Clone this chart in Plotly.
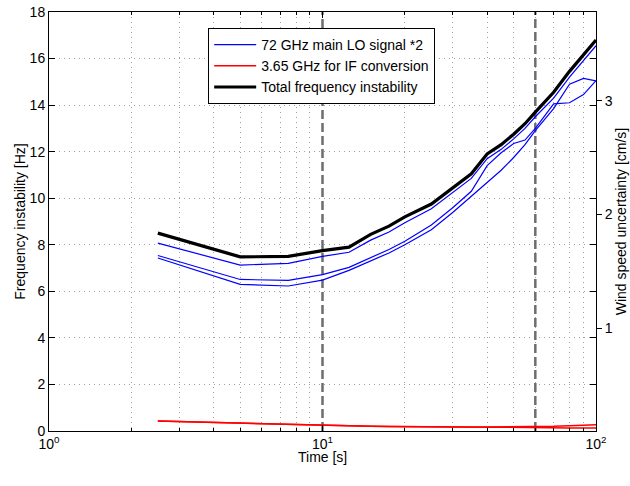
import plotly.graph_objects as go

# ---- data ----
t = [2.5, 5, 7.5, 10, 12.5, 15, 17.5, 20, 25, 30, 35, 40, 45, 50, 55, 60, 70, 80, 90, 100]
total = [8.5, 7.48, 7.5, 7.75, 7.9, 8.45, 8.8, 9.2, 9.75, 10.45, 11.05, 11.9, 12.3, 12.75, 13.2, 13.7, 14.55, 15.45, 16.15, 16.8]
lo_1 = [8.07, 7.13, 7.2, 7.5, 7.68, 8.2, 8.55, 8.95, 9.55, 10.25, 10.85, 11.7, 12.1, 12.55, 13.0, 13.5, 14.3, 15.2, 15.9, 16.55]
lo_2 = [7.54, 6.51, 6.47, 6.72, 7.03, 7.45, 7.8, 8.15, 8.85, 9.6, 10.3, 11.4, 11.95, 12.35, 12.5, 13.0, 14.05, 14.1, 14.45, 15.05]
lo_3 = [7.43, 6.3, 6.23, 6.48, 6.9, 7.3, 7.65, 8.0, 8.65, 9.4, 10.1, 10.7, 11.2, 11.75, 12.3, 12.9, 13.85, 14.9, 15.15, 15.04]
if_1 = [0.43, 0.33, 0.27, 0.24, 0.22, 0.2, 0.19, 0.18, 0.17, 0.17, 0.17, 0.17, 0.17, 0.17, 0.17, 0.18, 0.2, 0.23, 0.25, 0.27]
if_2 = [0.43, 0.33, 0.27, 0.24, 0.22, 0.2, 0.19, 0.18, 0.17, 0.17, 0.17, 0.16, 0.16, 0.15, 0.15, 0.14, 0.14, 0.13, 0.13, 0.13]
marker_times = [10, 60]
y_ticks = [0, 2, 4, 6, 8, 10, 12, 14, 16, 18]
x_ticks = [1, 10, 100]
x_ticktext = ["10<sup>0</sup>", "10<sup>1</sup>", "10<sup>2</sup>"]
x_minor = [2, 3, 4, 5, 6, 7, 8, 9, 20, 30, 40, 50, 60, 70, 80, 90]
wind_ticks = [1, 2, 3]
wind_range = [0.0925, 3.784]

FONT = "Liberation Sans, Arial, Helvetica, sans-serif"

fig = go.Figure()

# vertical dashed markers
for mt in marker_times:
    fig.add_trace(go.Scatter(x=[mt, mt], y=[0, 18], mode="lines",
                             line=dict(color="#6e6e6e", width=2.5, dash="9px,4px"),
                             showlegend=False, hoverinfo="skip"))

for i, s in enumerate([lo_1, lo_2, lo_3]):
    fig.add_trace(go.Scatter(x=t, y=s, mode="lines", line=dict(color="#0000ff", width=1.2),
                             name="72 GHz main LO signal *2", legendgroup="lo",
                             showlegend=(i == 0)))
for i, s in enumerate([if_1, if_2]):
    fig.add_trace(go.Scatter(x=t, y=s, mode="lines", line=dict(color="#ff0000", width=1.5),
                             name="3.65 GHz for IF conversion", legendgroup="if",
                             showlegend=(i == 0)))
fig.add_trace(go.Scatter(x=t, y=total, mode="lines", line=dict(color="#000000", width=3.2),
                         name="Total frequency instability"))

# invisible trace for secondary axis
fig.add_trace(go.Scatter(x=[50], y=[1], yaxis="y2", mode="markers",
                         marker=dict(opacity=0), showlegend=False, hoverinfo="skip"))

PLOT_TOP, PLOT_BOTTOM = 12, 431

fig.update_layout(
    width=630, height=486,
    margin=dict(l=49, r=34, t=12, b=55),
    paper_bgcolor="white", plot_bgcolor="white",
    font=dict(family=FONT, size=14, color="black"),
    xaxis=dict(type="log", range=[0, 2], tickvals=x_ticks, ticktext=x_ticktext,
               ticks="inside", ticklen=6, tickcolor="black", showline=True, linecolor="black",
               linewidth=1, mirror="ticks", showgrid=False, zeroline=False, automargin=False,
               tickfont=dict(size=14), ticklabeloverflow="allow",
               minor=dict(tickvals=x_minor, ticks="inside", ticklen=3, tickcolor="black",
                          showgrid=True, gridcolor="#a0a0a0", griddash="1px,4px", gridwidth=1)),
    yaxis=dict(range=[0, 18], tickvals=y_ticks, ticks="inside", ticklen=6, tickcolor="black",
               showline=True, linecolor="black", linewidth=1, mirror="ticks",
               showgrid=True, gridcolor="#a0a0a0", griddash="1px,4px", gridwidth=1,
               zeroline=False, automargin=False, tickfont=dict(size=14),
               ticklabeloverflow="allow",
               title=dict(text="Frequency instability [Hz]", standoff=0, font=dict(size=14))),
    yaxis2=dict(overlaying="y", side="right", range=wind_range, tickvals=wind_ticks,
                ticks="outside", ticklen=5, tickcolor="black", showline=False,
                showgrid=False, zeroline=False, automargin=False, tickfont=dict(size=14),
                ticklabeloverflow="allow",
                title=dict(text="Wind speed uncertainty [cm/s]", standoff=0, font=dict(size=14))),
    legend=dict(x=0.291, y=(PLOT_BOTTOM - 28) / (PLOT_BOTTOM - PLOT_TOP),
                xanchor="left", yanchor="top",
                bgcolor="white", bordercolor="black", borderwidth=1,
                font=dict(size=14), tracegroupgap=0, itemwidth=42),
    showlegend=True,
    annotations=[dict(text="Time [s]", xref="paper", yref="paper", x=0.5,
                      y=(PLOT_BOTTOM - 457) / (PLOT_BOTTOM - PLOT_TOP),
                      xanchor="center", yanchor="middle", showarrow=False,
                      font=dict(size=14))],
)

# remove the browser's default 8px page margin so the 630x486 figure fills the window
fig.write_html("out.html", config={"displayModeBar": False},
               post_script="document.body.style.margin='0px';")
